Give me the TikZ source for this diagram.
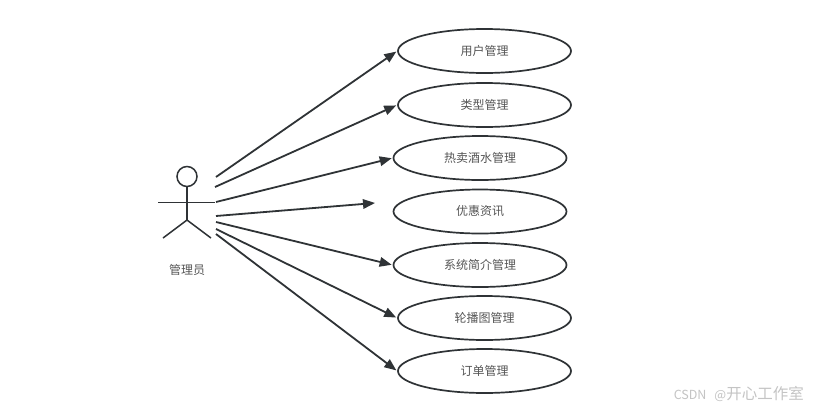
\documentclass[tikz,border=0pt]{standalone}
\usepackage{fontspec}
\setmainfont{Noto Sans CJK SC}
\usetikzlibrary{arrows.meta,shapes.geometric}
\definecolor{ink}{HTML}{2F3336}
\definecolor{txt}{HTML}{555555}
\definecolor{wm}{HTML}{C4C4C4}
\tikzset{
  usecase/.style={ellipse,draw=ink,line width=1.7pt,minimum width=173pt,minimum height=44pt,inner sep=0pt,font=\fontsize{12}{13}\selectfont,text=txt},
  conn/.style={draw=ink,line width=1.8pt,shorten >=1pt,-{Triangle[length=12pt,width=9.5pt]}},
  actorline/.style={draw=ink,line width=1.5pt}
}
\begin{document}
\begin{tikzpicture}[x=1pt,y=-1pt]
\useasboundingbox (0,0) rectangle (815,410);
\fill[white] (0,0) rectangle (815,410);
\node[usecase] (u1) at (484.5,51) {用户管理};
\node[usecase] (u2) at (484.5,105) {类型管理};
\node[usecase] (u3) at (480,158) {热卖酒水管理};
\node[usecase] (u4) at (480,211.5) {优惠资讯};
\node[usecase] (u5) at (480,265) {系统简介管理};
\node[usecase] (u6) at (484.5,318) {轮播图管理};
\node[usecase] (u7) at (484.5,371) {订单管理};
% actor
\node[circle,draw=ink,line width=1.5pt,minimum size=20pt,inner sep=0pt] (head) at (187,176.5) {};
\coordinate (hip) at (187,220);
\coordinate (armL) at (158,202.5);
\coordinate (armR) at (215,202.5);
\coordinate (legL) at (163,238);
\coordinate (legR) at (211,238);
\draw[actorline] (head.south) -- (hip);
\draw[actorline] (armL) -- (armR);
\draw[actorline] (legL) -- (hip) -- (legR);
\node[font=\fontsize{12}{13}\selectfont,text=txt] (lbl) at (187,270) {管理员};
% connector ends
\coordinate (s1) at (216,177);
\coordinate (s2) at (215,187);
\coordinate (s3) at (216,202);
\coordinate (s4) at (216,216);
\coordinate (s5) at (216,222);
\coordinate (s6) at (216,229);
\coordinate (s7) at (216,234);
\coordinate (e4) at (375,203);
\draw[conn] (s1) -- (u1.west);
\draw[conn] (s2) -- (u2.west);
\draw[conn] (s3) -- (u3.west);
\draw[conn,shorten >=0pt] (s4) -- (e4);
\draw[conn] (s5) -- (u5.west);
\draw[conn] (s6) -- (u6.west);
\draw[conn] (s7) -- (u7.west);
\node[font=\fontsize{15.5}{17}\selectfont,text=wm,anchor=east,inner sep=0pt] (wmark) at (804,394) {{\fontsize{12.5}{14}\selectfont CSDN\hspace{8pt}@}开心工作室};
\end{tikzpicture}
\end{document}
